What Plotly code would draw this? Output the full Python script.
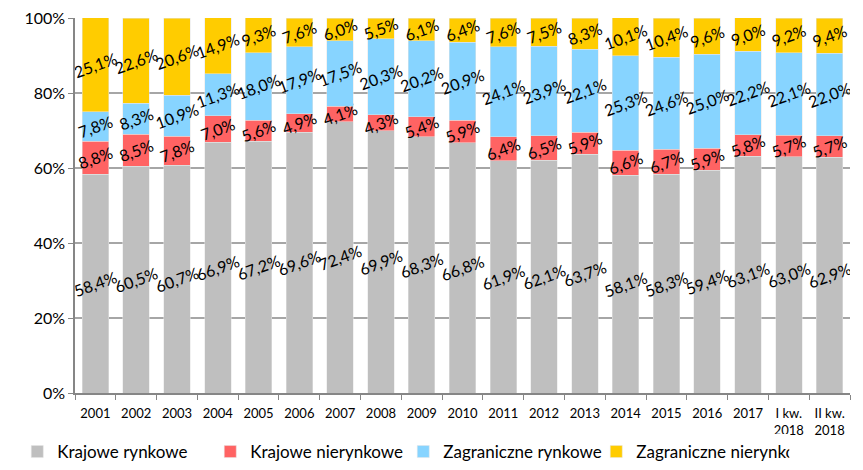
import plotly.graph_objects as go

years = ["2001", "2002", "2003", "2004", "2005", "2006", "2007", "2008", "2009",
         "2010", "2011", "2012", "2013", "2014", "2015", "2016", "2017",
         "I kw.<br>2018", "II kw.<br>2018"]

krajowe_rynkowe = [58.4, 60.5, 60.7, 66.9, 67.2, 69.6, 72.4, 69.9, 68.3, 66.8,
                   61.9, 62.1, 63.7, 58.1, 58.3, 59.4, 63.1, 63.0, 62.9]
krajowe_nierynkowe = [8.8, 8.5, 7.8, 7.0, 5.6, 4.9, 4.1, 4.3, 5.4, 5.9,
                      6.4, 6.5, 5.9, 6.6, 6.7, 5.9, 5.8, 5.7, 5.7]
zagr_rynkowe = [7.8, 8.3, 10.9, 11.3, 18.0, 17.9, 17.5, 20.3, 20.2, 20.9,
                24.1, 23.9, 22.1, 25.3, 24.6, 25.0, 22.2, 22.1, 22.0]
zagr_nierynkowe = [25.1, 22.6, 20.6, 14.9, 9.3, 7.6, 6.0, 5.5, 6.1, 6.4,
                   7.6, 7.5, 8.3, 10.1, 10.4, 9.6, 9.0, 9.2, 9.4]

series = [
    ("Krajowe rynkowe", krajowe_rynkowe, "#BFBFBF"),
    ("Krajowe nierynkowe", krajowe_nierynkowe, "#FF6363"),
    ("Zagraniczne rynkowe", zagr_rynkowe, "#87D4FF"),
    ("Zagraniczne nierynkowe", zagr_nierynkowe, "#FFCC00"),
]

FONT = "Lato, Open Sans, sans-serif"

fig = go.Figure()
for name, vals, color in series:
    fig.add_trace(go.Bar(
        x=years, y=vals, name=name,
        marker=dict(color=color, line=dict(color="#E6E6E6", width=0.5)),
        text=[f"{v:.1f}%".replace(".", ",") for v in vals],
        textposition="inside", insidetextanchor="middle",
        textangle=-20, constraintext="none",
        textfont=dict(size=16, color="black", family=FONT),
    ))

fig.update_layout(
    barmode="stack", bargap=0.35,
    width=863, height=470,
    margin=dict(l=75, r=13, t=18, b=77),
    plot_bgcolor="white", paper_bgcolor="white",
    font=dict(family=FONT, color="black"),
    uniformtext=dict(minsize=16, mode="show"),
    legend=dict(orientation="h", xref="container", x=0.02, xanchor="left",
                yref="container", y=-0.015, yanchor="bottom",
                font=dict(size=17), traceorder="normal",
                itemwidth=30, entrywidth=148, entrywidthmode="pixels",
                tracegroupgap=0),
    showlegend=True,
)
fig.update_yaxes(range=[0, 100], dtick=20, ticksuffix="%", showgrid=True,
                 gridcolor="#A6A6A6", gridwidth=1.5, showline=True,
                 linecolor="#868686", linewidth=1.5, tickfont=dict(size=16),
                 zeroline=False, ticks="outside", ticklen=5, tickcolor="#868686",
                 automargin=False)
fig.update_xaxes(showline=True, linecolor="#868686", linewidth=1.5,
                 ticks="outside", tickson="boundaries", ticklen=5,
                 tickcolor="#868686", tickfont=dict(size=13),
                 ticklabelstandoff=8, automargin=False)

# the page body has a default 8px margin; drop it so the figure fills the window
fig.write_html("out.html", config={"displayModeBar": False},
               post_script="document.body.style.margin='0';")
